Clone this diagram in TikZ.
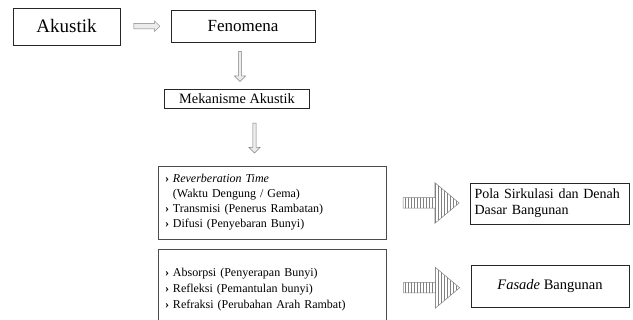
\documentclass[tikz,border=0pt]{standalone}
\usepackage{fontspec}
\setmainfont{Liberation Serif}
\usepackage{tikz}
\usetikzlibrary{positioning,calc,shapes.arrows,patterns}
\tikzset{
box/.style={
draw=black!85,
line width=0.6pt,
inner sep=0pt,
align=center
},
listbox/.style={
draw=black!70,
line width=0.6pt,
minimum width=228pt,
text width=214pt,
inner xsep=7pt,
align=left,
font=\fontsize{12}{15}\selectfont
},
smallarrow/.style={
single arrow,
draw=gray,
fill=gray!15,
line width=0.5pt,
inner sep=2.5pt,
single arrow head extend=2.5pt,
single arrow tip angle=90
},
downarrow/.style={
smallarrow,
inner sep=1.3pt,
single arrow head extend=4pt,
minimum height=30pt,
shape border rotate=270
},
hatcharrow/.style={
single arrow,
draw=gray,
pattern=vertical lines,
pattern color=gray,
line width=0.5pt,
inner sep=0pt,
inner ysep=5pt,
minimum height=56pt,
single arrow head extend=15pt,
single arrow tip angle=80
}
}
\newcommand{\bul}{\textbf{›}\ }
\begin{document}
\begin{tikzpicture}[x=1pt,y=-1pt]
\useasboundingbox (0,0) rectangle (633,320);

\node[box,minimum width=107pt,minimum height=37pt,font=\fontsize{19}{22}\selectfont](akustik) at (66.5,26.5){Akustik};
\node[box,minimum width=144pt,minimum height=32pt,font=\fontsize{17}{20}\selectfont](fenomena) at (243,26){Fenomena};
\node[box,minimum width=145pt,minimum height=19pt,font=\fontsize{14.3}{16}\selectfont](mekanisme) at (237,99){Mekanisme Akustik};

\node[listbox,minimum height=73pt](box1) at (272,202.5){\bul\textit{Reverberation Time}\\
\phantom{\bul}(Waktu Dengung / Gema)\\
\bul Transmisi (Penerus Rambatan)\\
\bul Difusi (Penyebaran Bunyi)};
\node[listbox,minimum height=81pt,font=\fontsize{12}{16}\selectfont](box2) at (272,289.5){\bul Absorpsi (Penyerapan Bunyi)\\
\bul Refleksi (Pemantulan bunyi)\\
\bul Refraksi (Perubahan Arah Rambat)};

\node[box,minimum width=159pt,minimum height=41pt,text width=150pt,align=left,font=\fontsize{14}{16}\selectfont](res1) at (549.5,203.5){Pola Sirkulasi dan Denah\\Dasar Bangunan};
\node[box,minimum width=158pt,minimum height=42pt,font=\fontsize{14.5}{16}\selectfont](res2) at (550,286){\textit{Fasade} Bangunan};

% arrows
\node[smallarrow,minimum height=26pt] at ($(akustik.east)!0.5!(fenomena.west)$){};
\foreach \x/\y in {fenomena/mekanisme,mekanisme/box1}
\node[downarrow] at ($(\x.south)!0.5!(\y.north)$){};
\foreach \x/\y in {box1/res1,box2/res2}
\node[hatcharrow] at ($(\x.east)!0.5!(\y.west)$){};
\end{tikzpicture}
\end{document}
